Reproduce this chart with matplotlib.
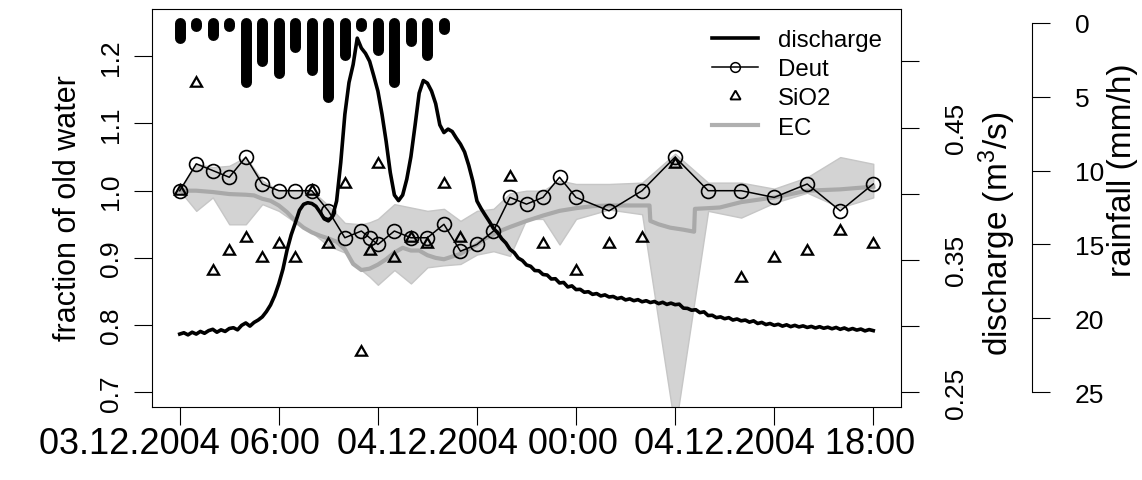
import datetime as dt
import matplotlib
matplotlib.use("Agg")
import matplotlib.pyplot as plt
from matplotlib.lines import Line2D

plt.rcParams['font.family'] = ['Liberation Sans', 'DejaVu Sans']
plt.rcParams['mathtext.fontset'] = 'custom'
plt.rcParams['mathtext.rm'] = 'Liberation Sans'
plt.rcParams['mathtext.it'] = 'Liberation Sans:italic'
plt.rcParams['mathtext.default'] = 'regular'

# ---------------- data (time in hours after 03.12.2004 06:00) ----------------
START = dt.datetime(2004, 12, 3, 6, 0)

rain_hours = [0, 1, 2, 3, 4, 5, 6, 7, 8, 9, 10, 11, 12, 13, 14, 15, 16]
rain_mm = [1.0, 0.2, 0.8, 0.2, 4.0, 2.6, 3.4, 1.6, 3.2, 5.0, 2.2, 0.2, 1.8, 4.0, 1.2, 2.2, 0.4]

# discharge, 15-minute steps from 0 h to 42 h
q_step_h = 0.25
discharge = [
    0.2940, 0.2950, 0.2934, 0.2954, 0.2940, 0.2960, 0.2946, 0.2966,
    0.2976, 0.2954, 0.2972, 0.2960, 0.2982, 0.2988, 0.2972, 0.3006,
    0.3024, 0.3000, 0.3028, 0.3046, 0.3070, 0.3110, 0.3160, 0.3230,
    0.3320, 0.3430, 0.3575, 0.3690, 0.3780, 0.3875, 0.3920, 0.3932,
    0.3926, 0.3905, 0.3860, 0.3810, 0.3795, 0.3828, 0.3945, 0.4235,
    0.4600, 0.4840, 0.4975, 0.5175, 0.5100, 0.5060, 0.5000, 0.4890,
    0.4775, 0.4600, 0.4395, 0.4160, 0.3990, 0.3948, 0.3990, 0.4110,
    0.4280, 0.4515, 0.4760, 0.4855, 0.4835, 0.4775, 0.4680, 0.4520,
    0.4462, 0.4488, 0.4470, 0.4420, 0.4375, 0.4315, 0.4215, 0.4095,
    0.3945, 0.3888, 0.3838, 0.3790, 0.3738, 0.3706, 0.3660, 0.3628,
    0.3580, 0.3556, 0.3514, 0.3496, 0.3462, 0.3452, 0.3420, 0.3418,
    0.3390, 0.3386, 0.3356, 0.3358, 0.3326, 0.3330, 0.3296, 0.3304,
    0.3276, 0.3278, 0.3256, 0.3260, 0.3240, 0.3246, 0.3228, 0.3236,
    0.3220, 0.3224, 0.3208, 0.3216, 0.3198, 0.3206, 0.3192, 0.3200,
    0.3184, 0.3192, 0.3178, 0.3186, 0.3170, 0.3180, 0.3164, 0.3174,
    0.3162, 0.3166, 0.3136, 0.3134, 0.3120, 0.3124, 0.3102, 0.3108,
    0.3080, 0.3082, 0.3064, 0.3070, 0.3056, 0.3064, 0.3046, 0.3054,
    0.3040, 0.3046, 0.3030, 0.3040, 0.3020, 0.3028, 0.3012, 0.3020,
    0.3006, 0.3014, 0.3000, 0.3010, 0.2996, 0.3006, 0.2994, 0.3002,
    0.2990, 0.2998, 0.2986, 0.2996, 0.2984, 0.2992, 0.2980, 0.2990,
    0.2976, 0.2986, 0.2972, 0.2982, 0.2970, 0.2978, 0.2964, 0.2974,
    0.2966,
]
q_hours = [i * q_step_h for i in range(len(discharge))]

deut_hours = [0, 1, 2, 3, 4, 5, 6, 7, 8, 9, 10, 11, 11.5, 12, 13, 14, 15, 16, 17,
              18, 19, 20, 21, 22, 23, 24, 26, 28, 30, 32, 34, 36, 38, 40, 42]
deut = [1.00, 1.04, 1.03, 1.02, 1.05, 1.01, 1.00, 1.00, 1.00, 0.97, 0.93, 0.94, 0.93,
        0.92, 0.94, 0.93, 0.93, 0.95, 0.91, 0.92, 0.94, 0.99, 0.98, 0.99, 1.02, 0.99,
        0.97, 1.00, 1.05, 1.00, 1.00, 0.99, 1.01, 0.97, 1.01]
band_upper = [1.000, 1.040, 1.035, 1.037, 1.050, 1.015, 1.000, 1.000, 1.000, 0.978,
              0.952, 0.950, 0.953, 0.958, 0.980, 0.975, 0.970, 0.973, 0.955, 0.970,
              0.973, 0.996, 1.000, 1.000, 1.015, 1.010, 1.010, 1.012, 1.055, 1.012,
              1.012, 1.003, 1.020, 1.050, 1.040]
band_lower = [1.000, 0.970, 0.990, 0.950, 0.950, 0.980, 0.970, 0.953, 0.938, 0.918,
              0.908, 0.882, 0.872, 0.860, 0.882, 0.862, 0.886, 0.889, 0.891, 0.905,
              0.910, 0.903, 0.958, 0.958, 0.920, 0.958, 0.972, 0.965, 0.645, 0.970,
              0.960, 0.982, 0.997, 0.975, 0.990]

sio2_hours = [0, 1, 2, 3, 4, 5, 6, 7, 8, 9, 10, 11, 11.5, 12, 13, 14, 15, 16, 17,
              20, 22, 24, 26, 28, 30, 34, 36, 38, 40, 42]
sio2 = [1.00, 1.16, 0.88, 0.91, 0.93, 0.90, 0.92, 0.90, 1.00, 0.92, 1.01, 0.76, 0.91,
        1.04, 0.90, 0.93, 0.92, 1.01, 0.93, 1.02, 0.92, 0.88, 0.92, 0.93, 1.04, 0.87,
        0.90, 0.91, 0.94, 0.92]

ec_hours = [0, 1, 2, 3, 4, 4.5, 5, 5.5, 6, 6.5, 7, 7.5, 8, 8.5, 9, 9.5, 10, 10.5, 11,
            11.5, 12, 12.5, 13, 13.5, 14, 14.5, 15, 15.5, 16, 16.5, 17, 17.5, 18, 18.5,
            19, 19.5, 20, 21, 22, 23, 24, 25, 26, 27, 28.45, 28.5, 29, 29.7, 30.5,
            31.15, 31.2, 32, 32.7, 34, 36, 38, 40, 42]
ec = [1.000, 1.000, 0.998, 0.995, 0.994, 0.993, 0.988, 0.985, 0.978, 0.968, 0.955,
      0.945, 0.938, 0.933, 0.929, 0.924, 0.913, 0.891, 0.882, 0.884, 0.890, 0.898,
      0.908, 0.915, 0.911, 0.911, 0.904, 0.900, 0.898, 0.902, 0.906, 0.913, 0.920,
      0.929, 0.935, 0.941, 0.946, 0.955, 0.963, 0.970, 0.974, 0.977, 0.978, 0.978,
      0.978, 0.955, 0.950, 0.945, 0.942, 0.939, 0.973, 0.974, 0.975, 0.983, 0.990,
      1.000, 1.002, 1.006]

x_tick_hours = [0, 6, 12, 18, 24, 30, 36, 42]
x_label_hours = [0, 18, 36]
frac_ticks = [0.7, 0.8, 0.9, 1.0, 1.1, 1.2]
q_ticks = [0.25, 0.30, 0.35, 0.40, 0.45, 0.50]
q_labelled = [0.25, 0.35, 0.45]
rain_ticks = [0, 5, 10, 15, 20, 25]

# ---------------- layout ----------------
W, H = 1142, 481
L, R, T, B = 152, 901, 9.5, 407.5
YT, XT, LT, RT, LEG = 19, 26, 22, 24, 17.3
TICKLEN = 13

fig = plt.figure(figsize=(W / 100, H / 100), dpi=100)
ax1 = fig.add_axes([L / W, 1 - B / H, (R - L) / W, (B - T) / H])
ax2 = ax1.twinx()
ax3 = ax1.twinx()

# fraction of old water (left axis)
ax1.fill_between(deut_hours, band_lower, band_upper, facecolor='#d3d3d3',
                 edgecolor='#c6c6c6', lw=1.0, zorder=1)
ax1.plot(ec_hours, ec, color='#a9a9a9', lw=3.0, zorder=2)
ax1.plot(deut_hours, deut, color='black', lw=1.1, marker='o', ms=10, mfc='none',
         mec='black', mew=1.2, zorder=3)
ax1.plot(sio2_hours, sio2, ls='none', marker=(3, 0, 0), ms=9.2, mfc='none',
         mec='black', mew=1.6, zorder=4)
ax1.set_xlim(-1.68, 43.68)
ax1.set_ylim(0.6789, 1.2711)
ax1.set_yticks(frac_ticks)
ax1.set_yticklabels([f'{v:.1f}' for v in frac_ticks], rotation=90, va='center')
ax1.set_xticks(x_tick_hours)
ax1.set_xticklabels([(START + dt.timedelta(hours=h)).strftime('%d.%m.%Y %H:%M')
                     if h in x_label_hours else '' for h in x_tick_hours])
ax1.tick_params(axis='y', direction='out', length=TICKLEN, width=0.8,
                labelsize=YT, pad=8)
ax1.tick_params(axis='x', direction='out', length=TICKLEN, width=0.8,
                labelsize=XT, pad=1)
for s in ax1.spines.values():
    s.set_linewidth(0.8)
ax1.set_ylabel('fraction of old water', fontsize=LT)
ax1.yaxis.label.set_va('center')
ax1.yaxis.set_label_coords((68 - L) / (R - L), 0.5)

# discharge (inner right axis)
ax2.plot(q_hours, discharge, color='black', lw=2.6, zorder=5)
ax2.set_ylim(0.2393, 0.5399)
ax2.set_yticks(q_ticks)
ax2.set_yticklabels([f'{v:.2f}' if v in q_labelled else '' for v in q_ticks],
                    rotation=90, va='center')
ax2.tick_params(axis='y', direction='out', length=TICKLEN, width=0.8,
                labelsize=YT, pad=18)
for s in ax2.spines.values():
    s.set_visible(False)
ax2.set_ylabel('discharge (m$^{3}$/s)', fontsize=RT)
ax2.yaxis.label.set_va('center')
ax2.yaxis.set_label_coords((997 - L) / (R - L), (B - 234) / (B - T))

# rainfall (outer right axis, inverted)
bars = ax3.vlines(rain_hours, 0, rain_mm, colors='black', lw=7.9, zorder=6)
bars.set_capstyle('round')
ax3.set_ylim(25.98, -0.98)
ax3.set_yticks(rain_ticks)
ax3.set_yticklabels([str(v) for v in rain_ticks], rotation=90, va='center')
ax3.tick_params(axis='y', direction='out', length=TICKLEN, width=0.8,
                labelsize=YT, pad=18)
for name, s in ax3.spines.items():
    s.set_visible(name == 'right')
ax3.spines['right'].set_position(('axes', (1032 - L) / (R - L)))
ax3.spines['right'].set_bounds(0, 25)
ax3.spines['right'].set_linewidth(0.8)
ax3.set_ylabel('rainfall (mm/h)', fontsize=RT)
ax3.yaxis.label.set_va('center')
ax3.yaxis.set_label_coords((1123 - L) / (R - L), (B - 170) / (B - T))

handles = [
    Line2D([], [], color='black', lw=2.6),
    Line2D([], [], color='black', lw=1.1, marker='o', ms=7, mfc='none', mew=1.1),
    Line2D([], [], ls='none', marker=(3, 0, 0), ms=8.5, mfc='none', mec='black', mew=1.4),
    Line2D([], [], color='#b0b0b0', lw=3.0),
]
ax3.legend(handles, ['discharge', 'Deut', 'SiO2', 'EC'], loc='upper left',
           bbox_to_anchor=(712 / W, 1 - 30 / H), bbox_transform=fig.transFigure,
           frameon=False, fontsize=LEG, borderpad=0, borderaxespad=0,
           handlelength=1.9, handletextpad=0.85, labelspacing=0.30)

fig.savefig('out.png', dpi=100)
